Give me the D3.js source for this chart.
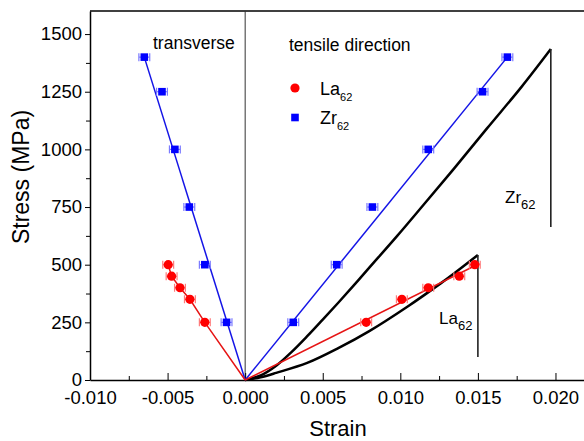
<!DOCTYPE html>
<html>
<head>
<meta charset="utf-8">
<script src="https://cdn.jsdelivr.net/npm/d3@7"></script>
<style>
    body { margin: 0; background: #fff; }
    svg { display: block; font-family: 'Liberation Sans', Arial, sans-serif; }
</style>
</head>
<body>
<svg id="chart" width="584" height="441"></svg>
<script>
// measured points (strain, stress in MPa)
const laTensileStrain = [0.0078, 0.0101, 0.0118, 0.0138, 0.0148]
const laTensileStress = [250, 350, 400, 450, 500]
const laTransStrain = [-0.0026, -0.00356, -0.0042, -0.00474, -0.00496]
const laTransStress = [250, 350, 400, 450, 500]
const zrTensileStrain = [0.0031, 0.0059, 0.0082, 0.0118, 0.0153, 0.0169]
const zrTensileStress = [250, 500, 750, 1000, 1250, 1400]
const zrTransStrain = [-0.0012, -0.0026, -0.0036, -0.00453, -0.00536, -0.0065]
const zrTransStress = [250, 500, 750, 1000, 1250, 1400]
const strainError = 0.00035

// linear fits
const zrTensileFitStrain = [0, 0.0169]
const zrTensileFitStress = [0, 1400]
const laTensileFitStrain = [0, 0.0151]
const laTensileFitStress = [0, 505]
const zrTransFitStrain = [0, -0.0065]
const zrTransFitStress = [0, 1400]

// stress-strain curves
const zrCurveStrain = [0, 0.001, 0.002, 0.003, 0.004, 0.005, 0.006, 0.007, 0.008, 0.0098, 0.0115, 0.0135, 0.0156, 0.0178, 0.0197]
const zrCurveStress = [0, 20, 62, 122, 190, 262, 335, 410, 487, 625, 760, 920, 1092, 1270, 1435]
const zrDropStress = [1435, 663]
const laCurveStrain = [0, 0.001, 0.002, 0.004, 0.006, 0.008, 0.0105, 0.0126, 0.0135, 0.015]
const laCurveStress = [0, 12, 31, 74, 138, 212, 320, 419, 464, 542]
const laDropStress = [542, 100]

const xTicks = [-0.010, -0.005, 0, 0.005, 0.010, 0.015, 0.020]
const xMinorTicks = [-0.0075, -0.0025, 0.0025, 0.0075, 0.0125, 0.0175]
const yTicks = [0, 250, 500, 750, 1000, 1250, 1500]
const yMinorTicks = [125, 375, 625, 875, 1125, 1375]

const zip = (xs, ys) => xs.map((x, i) => [x, ys[i]])

const svg = d3.select('#chart')
const margin = { top: 11, left: 90, bottom: 380 }

const x = d3.scaleLinear().domain([-0.010, 0.022]).range([margin.left, 586.5])
const y = d3.scaleLinear().domain([0, 1600]).range([margin.bottom, margin.top])

const line = d3.line().x(d => x(d[0])).y(d => y(d[1]))
const curve = d3.line().x(d => x(d[0])).y(d => y(d[1])).curve(d3.curveCatmullRom.alpha(0.5))

// frame
svg.append('line')
    .attr('x1', margin.left).attr('x2', 584)
    .attr('y1', margin.top).attr('y2', margin.top)
    .attr('stroke', '#000').attr('stroke-width', 1.6)

svg.append('line')
    .attr('x1', x(0)).attr('x2', x(0))
    .attr('y1', margin.top).attr('y2', margin.bottom)
    .attr('stroke', '#333').attr('stroke-width', 1)

// x axis, ticks point inward
const xAxis = svg.append('g')
    .attr('transform', `translate(0,${margin.bottom})`)
    .call(d3.axisBottom(x).tickValues(xTicks).tickSizeInner(-7).tickSizeOuter(0).tickFormat(d => d.toFixed(3)))
xAxis.selectAll('text').attr('y', 24).attr('dy', 0).style('font-size', '18.5px').attr('fill', '#000')
xAxis.append('g').call(d3.axisBottom(x).tickValues(xMinorTicks).tickSize(-4).tickFormat(''))
xAxis.selectAll('path').attr('stroke-width', 1.5)

const yAxis = svg.append('g')
    .attr('transform', `translate(${margin.left},0)`)
    .call(d3.axisLeft(y).tickValues(yTicks).tickSizeInner(5).tickSizeOuter(0).tickFormat(d3.format('d')))
yAxis.selectAll('text').style('font-size', '18.5px').attr('fill', '#000')
yAxis.append('g').call(d3.axisLeft(y).tickValues(yMinorTicks).tickSize(4).tickFormat(''))
yAxis.selectAll('path').attr('stroke-width', 1.5)
svg.selectAll('.domain').filter(function () { return this.parentNode.parentNode !== svg.node() }).remove()

svg.append('text')
    .attr('transform', `translate(29,177) rotate(-90)`)
    .attr('text-anchor', 'middle')
    .style('font-size', '23px')
    .text('Stress (MPa)')

svg.append('text')
    .attr('x', 338).attr('y', 436)
    .attr('text-anchor', 'middle')
    .style('font-size', '22px')
    .text('Strain')

// black curves and drops
const plot = svg.append('g')
plot.append('path').datum(zip(zrCurveStrain, zrCurveStress))
    .attr('d', curve).attr('fill', 'none').attr('stroke', '#000').attr('stroke-width', 2.5)
plot.append('path').datum(zip(laCurveStrain, laCurveStress))
    .attr('d', curve).attr('fill', 'none').attr('stroke', '#000').attr('stroke-width', 2.5)
plot.append('path').datum(zrDropStress.map(s => [zrCurveStrain[zrCurveStrain.length - 1], s]))
    .attr('d', line).attr('fill', 'none').attr('stroke', '#222').attr('stroke-width', 1.6)
plot.append('path').datum(laDropStress.map(s => [laCurveStrain[laCurveStrain.length - 1], s]))
    .attr('d', line).attr('fill', 'none').attr('stroke', '#222').attr('stroke-width', 1.6)

// fit lines
const fits = [
    { xs: zrTensileFitStrain, ys: zrTensileFitStress, color: '#1414e6' },
    { xs: zrTransFitStrain, ys: zrTransFitStress, color: '#1414e6' },
    { xs: laTensileFitStrain, ys: laTensileFitStress, color: '#e61414' },
    { xs: [0, ...laTransStrain], ys: [0, ...laTransStress], color: '#e61414' }
]
fits.forEach(f => {
    plot.append('path').datum(zip(f.xs, f.ys))
        .attr('d', line).attr('fill', 'none').attr('stroke', f.color).attr('stroke-width', 1.5)
})

// points with horizontal error bars
const drawErrors = (data, color) => {
    const g = plot.append('g').attr('stroke', color).attr('stroke-width', 1.2).attr('fill', 'none')
    data.forEach(d => {
        const x0 = x(d[0] - strainError)
        const x1 = x(d[0] + strainError)
        const yy = y(d[1])
        g.append('line').attr('x1', x0).attr('x2', x1).attr('y1', yy).attr('y2', yy)
        g.append('line').attr('x1', x0).attr('x2', x0).attr('y1', yy - 4).attr('y2', yy + 4)
        g.append('line').attr('x1', x1).attr('x2', x1).attr('y1', yy - 4).attr('y2', yy + 4)
    })
}

const laPoints = [...zip(laTensileStrain, laTensileStress), ...zip(laTransStrain, laTransStress)]
const zrPoints = [...zip(zrTensileStrain, zrTensileStress), ...zip(zrTransStrain, zrTransStress)]

drawErrors(laPoints, '#ff7a7a')
drawErrors(zrPoints, '#7a7aff')

plot.selectAll('circle.la').data(laPoints).join('circle')
    .attr('class', 'la')
    .attr('cx', d => x(d[0])).attr('cy', d => y(d[1])).attr('r', 4.6)
    .attr('fill', '#ff0000')

plot.selectAll('rect.zr').data(zrPoints).join('rect')
    .attr('class', 'zr')
    .attr('x', d => x(d[0]) - 3.8).attr('y', d => y(d[1]) - 3.8)
    .attr('width', 7.6).attr('height', 7.6)
    .attr('fill', '#0000ff')

// texts
svg.append('text').attr('x', 153).attr('y', 49).style('font-size', '17.5px').text('transverse')
svg.append('text').attr('x', 289).attr('y', 51).style('font-size', '17.5px').text('tensile direction')

const subLabel = (px, py, main, sub, size, subSize, shift) => {
    const t = svg.append('text').attr('x', px).attr('y', py).style('font-size', size + 'px')
    t.append('tspan').text(main)
    t.append('tspan').attr('dy', shift).style('font-size', subSize + 'px').text(sub)
}

// legend
svg.append('circle').attr('cx', 295).attr('cy', 88).attr('r', 4.6).attr('fill', '#ff0000')
subLabel(320, 95, 'La', '62', 18, 11, 6)
svg.append('rect').attr('x', 291.2).attr('y', 113.7).attr('width', 7.6).attr('height', 7.6).attr('fill', '#0000ff')
subLabel(320, 124, 'Zr', '62', 18, 11, 6)

// curve annotations
subLabel(505, 203, 'Zr', '62', 17, 13, 6)
subLabel(439, 324, 'La', '62', 17, 13, 6)
</script>
</body>
</html>
